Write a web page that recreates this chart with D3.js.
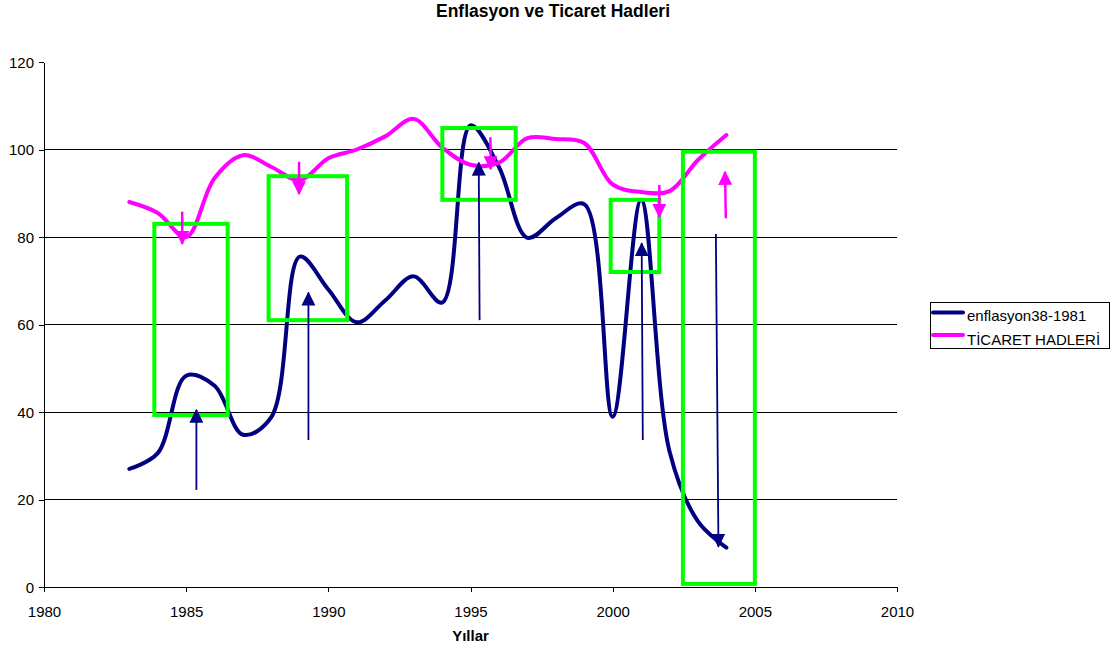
<!DOCTYPE html>
<html>
<head>
<meta charset="utf-8">
<script src="https://cdn.jsdelivr.net/npm/d3@7"></script>
<style>
  body { margin: 0; background: #fff; }
  text { font-family: "Liberation Sans", Arial, sans-serif; }
</style>
</head>
<body>
<div id="chart"></div>
<script>
// data
const years = [1983, 1984, 1985, 1986, 1987, 1988, 1989, 1990, 1991, 1992, 1993,
               1994, 1995, 1996, 1997, 1998, 1999, 2000, 2001, 2002, 2003, 2004];
const enflasyon = [27, 30.6, 48.3, 46, 34.8, 38.9, 75.5, 68, 60.5, 65.5, 71,
                   65, 105.5, 96, 79.8, 84.3, 87.5, 38.9, 88.5, 31, 15, 9];
const ticaret = [88, 85.5, 80, 93.5, 98.7, 96, 93, 98, 100, 103, 107,
                 100.5, 96.5, 97, 102.6, 102.4, 101.5, 92, 90.3, 90.5, 97.6, 103.3];
const seriesNames = ["enflasyon38-1981", "TİCARET HADLERİ"];
const xTicks = [1980, 1985, 1990, 1995, 2000, 2005, 2010];
const yTicks = [0, 20, 40, 60, 80, 100, 120];

// annotation boxes: [year0, year1, valueTop, valueBottom]
const boxes = [
  [1983.88, 1986.46, 83.0, 39.3],
  [1987.90, 1990.66, 93.9, 61.0],
  [1994.01, 1996.59, 104.9, 88.5],
  [1999.93, 2001.64, 88.5, 72.0],
  [2002.47, 2005.00, 99.5, 0.7]
];
// arrows: [yearFrom, valueFrom, yearTo, valueTo]
const navyArrows = [
  [1985.36, 22.2, 1985.36, 40.5],
  [1989.30, 33.6, 1989.30, 67.3],
  [1995.32, 61.0, 1995.29, 97.0],
  [2001.06, 33.6, 2001.02, 78.6],
  [2003.63, 80.7, 2003.72, 9.2]
];
const pinkArrows = [
  [1984.86, 85.8, 1984.86, 78.4],
  [1988.97, 97.2, 1988.97, 89.8],
  [1995.70, 102.8, 1995.71, 95.5],
  [2001.64, 91.9, 2001.64, 84.6],
  [2003.98, 84.3, 2003.95, 94.9]
];

const width = 1117, height = 652;
const margin = { top: 62, right: 220, bottom: 65, left: 44 };
const w = width - margin.left - margin.right;
const h = height - margin.top - margin.bottom;

const svg = d3.select("#chart").append("svg")
  .attr("width", width)
  .attr("height", height);

const defs = svg.append("defs");
function addMarker(id, color) {
  defs.append("marker")
    .attr("id", id)
    .attr("viewBox", "0 0 14 14")
    .attr("refX", 13)
    .attr("refY", 7)
    .attr("markerWidth", 14)
    .attr("markerHeight", 14)
    .attr("markerUnits", "userSpaceOnUse")
    .attr("orient", "auto")
    .append("path")
    .attr("d", "M0,0 L14,7 L0,14 Z")
    .attr("fill", color);
}
addMarker("headNavy", "#000080");
addMarker("headPink", "#ff00ff");

const g = svg.append("g")
  .attr("transform", "translate(" + margin.left + "," + margin.top + ")");

const x = d3.scaleLinear().domain([1980, 2010]).range([0, w]);
const y = d3.scaleLinear().domain([0, 120]).range([h, 0]);

// gridlines
g.append("g")
  .selectAll("line")
  .data(yTicks.filter(d => d > 0 && d < 120))
  .enter()
  .append("line")
  .attr("x1", 0)
  .attr("x2", w)
  .attr("y1", d => y(d))
  .attr("y2", d => y(d))
  .attr("stroke", "#000")
  .attr("stroke-width", 1)
  .attr("shape-rendering", "crispEdges");

// axes
const xAxis = g.append("g")
  .attr("transform", "translate(0," + h + ")")
  .call(d3.axisBottom(x).tickValues(xTicks).tickFormat(d3.format("d")).tickSize(5).tickSizeOuter(5));
const yAxis = g.append("g")
  .call(d3.axisLeft(y).tickValues(yTicks).tickSize(5).tickSizeOuter(0));
[xAxis, yAxis].forEach(a => {
  a.select(".domain").attr("stroke", "#000").attr("shape-rendering", "crispEdges");
  a.selectAll(".tick line").attr("stroke", "#000").attr("shape-rendering", "crispEdges");
  a.selectAll("text")
    .attr("fill", "#000")
    .style("font-size", "15px")
    .style("font-family", "'Liberation Sans', Arial, sans-serif");
});
xAxis.selectAll("text").attr("y", 29.5).attr("dy", 0);
yAxis.selectAll("text").attr("x", -10).attr("dy", "0.35em");

// smoothed lines
const line = d3.line()
  .x(d => x(d[0]))
  .y(d => y(d[1]))
  .curve(d3.curveCatmullRom.alpha(0.5));

g.append("path")
  .datum(years.map((yr, i) => [yr, enflasyon[i]]))
  .attr("d", line)
  .attr("fill", "none")
  .attr("stroke", "#000080")
  .attr("stroke-width", 4)
  .attr("stroke-linejoin", "round")
  .attr("stroke-linecap", "round");

g.append("path")
  .datum(years.map((yr, i) => [yr, ticaret[i]]))
  .attr("d", line)
  .attr("fill", "none")
  .attr("stroke", "#ff00ff")
  .attr("stroke-width", 4)
  .attr("stroke-linejoin", "round")
  .attr("stroke-linecap", "round");

// green boxes
g.append("g")
  .selectAll("rect")
  .data(boxes)
  .enter()
  .append("rect")
  .attr("x", d => x(d[0]))
  .attr("y", d => y(d[2]))
  .attr("width", d => x(d[1]) - x(d[0]))
  .attr("height", d => y(d[3]) - y(d[2]))
  .attr("fill", "none")
  .attr("stroke", "#00ff00")
  .attr("stroke-width", 4);

// arrows
g.append("g")
  .selectAll("line")
  .data(navyArrows)
  .enter()
  .append("line")
  .attr("x1", d => x(d[0]))
  .attr("y1", d => y(d[1]))
  .attr("x2", d => x(d[2]))
  .attr("y2", d => y(d[3]))
  .attr("stroke", "#000080")
  .attr("stroke-width", 1.8)
  .attr("marker-end", "url(#headNavy)");

g.append("g")
  .selectAll("line")
  .data(pinkArrows)
  .enter()
  .append("line")
  .attr("x1", d => x(d[0]))
  .attr("y1", d => y(d[1]))
  .attr("x2", d => x(d[2]))
  .attr("y2", d => y(d[3]))
  .attr("stroke", "#ff00ff")
  .attr("stroke-width", 2.5)
  .attr("marker-end", "url(#headPink)");

// title and axis label
svg.append("text")
  .attr("x", 553)
  .attr("y", 17)
  .attr("text-anchor", "middle")
  .style("font-size", "17.5px")
  .style("font-weight", "bold")
  .text("Enflasyon ve Ticaret Hadleri");

svg.append("text")
  .attr("x", margin.left + x(1995))
  .attr("y", 641)
  .attr("text-anchor", "middle")
  .style("font-size", "15px")
  .style("font-weight", "bold")
  .text("Yıllar");

// legend
const legend = svg.append("g").attr("transform", "translate(930,302.5)");
legend.append("rect")
  .attr("width", 179)
  .attr("height", 46)
  .attr("fill", "#fff")
  .attr("stroke", "#000")
  .attr("stroke-width", 1)
  .attr("shape-rendering", "crispEdges");
const legendColors = ["#000080", "#ff00ff"];
seriesNames.forEach((name, i) => {
  legend.append("line")
    .attr("x1", 3).attr("x2", 33)
    .attr("y1", 10 + i * 22.5).attr("y2", 10 + i * 22.5)
    .attr("stroke", legendColors[i])
    .attr("stroke-width", 4)
    .attr("stroke-linecap", "round");
  legend.append("text")
    .attr("x", 37)
    .attr("y", 18.5 + i * 23.5)
    .style("font-size", "15px")
    .text(name);
});
</script>
</body>
</html>
